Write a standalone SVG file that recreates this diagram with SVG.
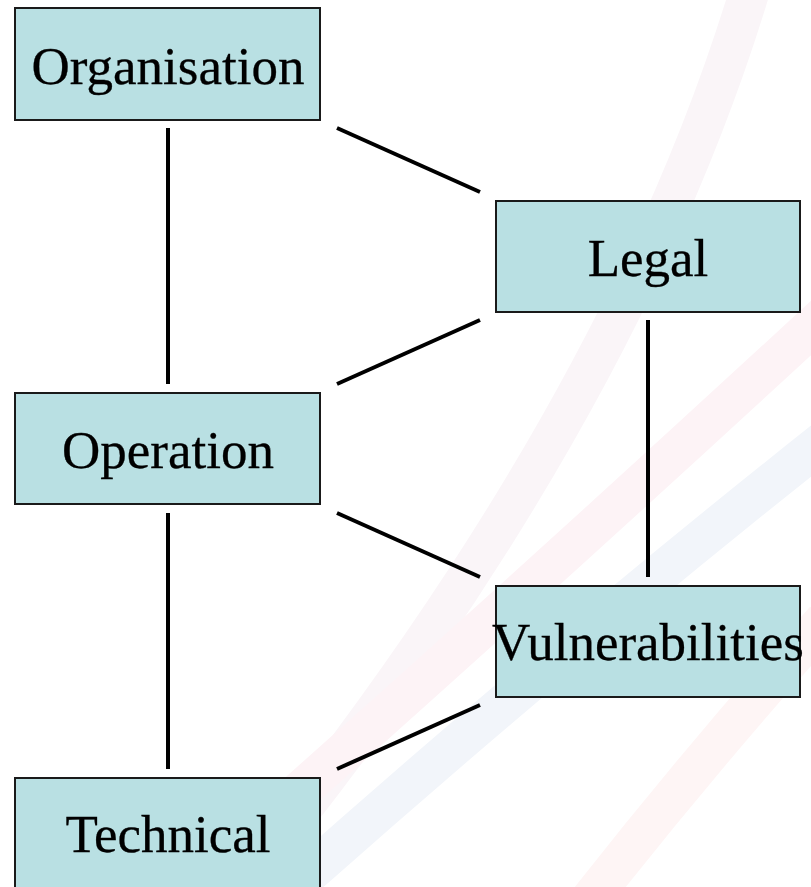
<svg xmlns="http://www.w3.org/2000/svg" width="811" height="887" viewBox="0 0 811 887">
  <style>
    .box { fill: #B9E0E3; stroke: #1a1a1a; stroke-width: 2; }
    .lbl { font-family: "Liberation Serif", "Times New Roman", serif; font-size: 53px; fill: #000; text-anchor: middle; stroke: #000; stroke-width: 0.3; }
    .edge { stroke: #000; stroke-width: 4; fill: none; }
    .swoosh { fill: none; stroke-width: 40; }
  </style>
  <rect width="811" height="887" fill="#ffffff"/>
  <g id="background">
    <path class="swoosh" stroke="#FAF5F8" d="M 750 -10 Q 620 420 240 887"/>
    <path class="swoosh" stroke="#FDF3F6" d="M 825 315 Q 560 560 290 800"/>
    <path class="swoosh" stroke="#F2F5FA" stroke-width="50" d="M 825 440 Q 560 650 290 890"/>
    <path class="swoosh" stroke="#FEF5F5" d="M 825 620 Q 700 760 590 900"/>
  </g>
  <g id="connectors">
    <line class="edge" x1="168" y1="128" x2="168" y2="384"/>
    <line class="edge" x1="337" y1="128" x2="480" y2="192"/>
    <line class="edge" x1="480" y1="320" x2="337" y2="384"/>
    <line class="edge" x1="648" y1="320" x2="648" y2="577"/>
    <line class="edge" x1="337" y1="513" x2="480" y2="577"/>
    <line class="edge" x1="168" y1="513" x2="168" y2="769"/>
    <line class="edge" x1="480" y1="705" x2="337" y2="769"/>
  </g>
  <g id="node-organisation">
    <rect class="box" x="15" y="8" width="305" height="112"/>
    <text class="lbl" x="168" y="84">Organisation</text>
  </g>
  <g id="node-legal">
    <rect class="box" x="496" y="201" width="304" height="111"/>
    <text class="lbl" x="648" y="276">Legal</text>
  </g>
  <g id="node-operation">
    <rect class="box" x="15" y="393" width="305" height="111"/>
    <text class="lbl" x="168" y="468">Operation</text>
  </g>
  <g id="node-vulnerabilities">
    <rect class="box" x="496" y="586" width="304" height="111"/>
    <text class="lbl" x="648" y="660">Vulnerabilities</text>
  </g>
  <g id="node-technical">
    <rect class="box" x="15" y="778" width="305" height="120"/>
    <text class="lbl" x="168" y="852">Technical</text>
  </g>
</svg>
